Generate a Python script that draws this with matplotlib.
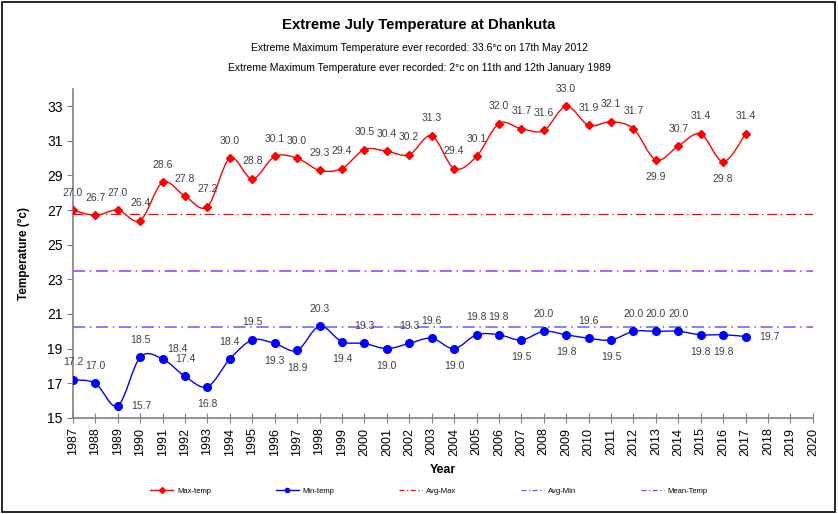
import numpy as np
import matplotlib
matplotlib.use("Agg")
import matplotlib.pyplot as plt
from matplotlib.path import Path
from matplotlib.patches import PathPatch, Rectangle
from matplotlib.lines import Line2D

plt.rcParams["font.family"] = ["Liberation Sans", "DejaVu Sans"]

# data
years = list(range(1987, 2018))
max_temp = [27.0, 26.7, 27.0, 26.4, 28.6, 27.8, 27.2, 30.0, 28.8, 30.1, 30.0,
            29.3, 29.4, 30.5, 30.4, 30.2, 31.3, 29.4, 30.1, 32.0, 31.7, 31.6,
            33.0, 31.9, 32.1, 31.7, 29.9, 30.7, 31.4, 29.8, 31.4]
min_temp = [17.2, 17.0, 15.7, 18.5, 18.4, 17.4, 16.8, 18.4, 19.5, 19.3, 18.9,
            20.3, 19.4, 19.3, 19.0, 19.3, 19.6, 19.0, 19.8, 19.8, 19.5, 20.0,
            19.8, 19.6, 19.5, 20.0, 20.0, 20.0, 19.8, 19.8, 19.7]
avg_max = 26.8
avg_min = 20.25
mean_temp = 23.5
year_ticks = list(range(1987, 2021))
temp_ticks = [15, 17, 19, 21, 23, 25, 27, 29, 31, 33]

# label placement: a=above, b=below, r=right, ar=above-right
max_pos = ["a"] * 31
max_pos[years.index(2013)] = "b"
max_pos[years.index(2016)] = "b"
min_pos = ["a", "a", "r", "a", "ar", "a", "b", "a", "a", "b", "b",
           "a", "b", "a", "b", "a", "a", "b", "a", "a", "b", "a",
           "b", "a", "b", "a", "a", "a", "b", "b", "r"]


def smooth_path(xs, ys):
    # Excel-style smoothed line as cubic bezier segments
    pts = np.column_stack([xs, ys]).astype(float)
    n = len(pts)
    verts = [pts[0]]
    codes = [Path.MOVETO]
    for i in range(n - 1):
        p0 = pts[max(i - 1, 0)]
        p1 = pts[i]
        p2 = pts[i + 1]
        p3 = pts[min(i + 2, n - 1)]
        c1 = p1 + (p2 - p0) / 6.0
        c2 = p2 - (p3 - p1) / 6.0
        verts += [c1, c2, p2]
        codes += [Path.CURVE4] * 3
    return Path(verts, codes)


fig = plt.figure(figsize=(8.38, 5.14), dpi=100)
ax = fig.add_axes([0.087, 0.187, 0.883, 0.640])

red = "#FF0000"
blue = "#0000FF"
dashdot = (0, (8, 3, 1, 3))
ax.axhline(avg_max, color=red, lw=0.9, ls=dashdot, zorder=1)
ax.axhline(avg_min, color="#5c5cff", lw=1.1, ls=dashdot, zorder=1)
ax.axhline(mean_temp, color="#9933FF", lw=1.1, ls=dashdot, zorder=1)

ax.add_patch(PathPatch(smooth_path(years, max_temp), fc="none", ec=red, lw=1.0, zorder=2))
ax.add_patch(PathPatch(smooth_path(years, min_temp), fc="none", ec=blue, lw=1.0, zorder=2))
ax.plot(years, max_temp, ls="none", marker="D", ms=4.5, color=red, zorder=3)
ax.plot(years, min_temp, ls="none", marker="o", ms=5.5, color=blue, zorder=3)

offs = {"a": (0, 9, "center", "bottom"), "b": (0, -9, "center", "top"),
        "r": (10, 0, "left", "center"), "ar": (11, 7, "center", "center")}
for x, y, p in zip(years, max_temp, max_pos):
    dx, dy, ha, va = offs[p]
    ax.annotate(f"{y:.1f}", (x, y), xytext=(dx, dy), textcoords="offset points",
                ha=ha, va=va, fontsize=7.5, color="#404040")
for x, y, p in zip(years, min_temp, min_pos):
    dx, dy, ha, va = offs[p]
    ax.annotate(f"{y:.1f}", (x, y), xytext=(dx, dy), textcoords="offset points",
                ha=ha, va=va, fontsize=7.5, color="#404040")

ax.set_xlim(1987, 2020)
ax.set_ylim(15, 34)
ax.set_xticks(year_ticks)
ax.set_xticklabels([str(y) for y in year_ticks], rotation=90, fontsize=9)
ax.set_yticks(temp_ticks)
ax.tick_params(axis="y", labelsize=10, direction="out", length=4, color="#808080")
ax.tick_params(axis="x", direction="inout", length=7, color="#808080")
for s in ["top", "right"]:
    ax.spines[s].set_visible(False)
for s in ["left", "bottom"]:
    ax.spines[s].set_color("#808080")
    ax.spines[s].set_linewidth(1.2)
ax.set_xlabel("Year", fontsize=9, fontweight="bold", labelpad=6)
ax.set_ylabel("Temperature (°c)", fontsize=8.5, fontweight="bold", labelpad=12)

fig.text(0.5, 0.952, "Extreme July Temperature at Dhankuta", ha="center", va="center",
         fontsize=10.7, fontweight="bold")
fig.text(0.5, 0.907, "Extreme Maximum Temperature ever recorded: 33.6°c on 17th May 2012",
         ha="center", va="center", fontsize=7.5)
fig.text(0.5, 0.868, "Extreme Maximum Temperature ever recorded: 2°c on 11th and 12th January 1989",
         ha="center", va="center", fontsize=7.5)

handles = [
    Line2D([], [], color=red, lw=1.0, marker="D", ms=3),
    Line2D([], [], color=blue, lw=1.0, marker="o", ms=3),
    Line2D([], [], color=red, lw=0.9, ls=(0, (4, 2, 1, 2))),
    Line2D([], [], color="#5c5cff", lw=0.9, ls=(0, (4, 2, 1, 2))),
    Line2D([], [], color="#9933FF", lw=0.9, ls=(0, (4, 2, 1, 2))),
]
fig.legend(handles, ["Max-temp", "Min-temp", "Avg-Max", "Avg-Min", "Mean-Temp"],
           loc="center", bbox_to_anchor=(0.512, 0.045), ncol=5, frameon=False,
           fontsize=5.5, handlelength=3, columnspacing=8.5, handletextpad=0.5)

fig.add_artist(Rectangle((0.002, 0.004), 0.994, 0.992, transform=fig.transFigure,
                         fill=False, ec="black", lw=1.2))

fig.savefig("out.png", dpi=100)
